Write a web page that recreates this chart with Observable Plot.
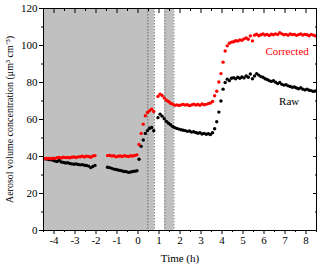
<!DOCTYPE html>
<html>
<head>
<meta charset="utf-8">
<script src="https://cdn.jsdelivr.net/npm/d3@7"></script>
<script src="https://cdn.jsdelivr.net/npm/@observablehq/plot@0.6"></script>
<style>
  html, body { margin: 0; padding: 0; background: #fff; }
</style>
</head>
<body>
<div id="chart"></div>
<script>
// Sampling grid (hours): first sample and step
const t0 = -4.45, dt = 0.1;

// Corrected series (red); null = no data
const corrected = [
  38.8, 38.9, 39.0, 38.8, 39.1, 39.0, 39.3, 39.5, 39.2, 39.6, 39.4, 39.5, 39.3, 39.6, 39.7, 39.5, 39.8, 39.9, 40.1, 39.7, 40.2, 40.0, 39.6, 40.3, 40.5,
  null, null, null, null, null,
  40.5, 40.6, 40.3, 40.4, 39.8, 40.1, 40.3, 40.0, 40.4, 40.2, 40.0, 40.4, 40.3, 40.6, 40.9,
  46.5, 52.5, 57.5, 62.0, 63.8, 64.7, 65.6, 64.3,
  null,
  72.5, 73.7, 73.0, 71.6, 70.4, 69.7, 68.8, 68.3, 67.7, 67.9,
  67.6, 67.9, 68.2, 67.8, 68.0, 67.5, 67.9, 68.3, 67.8, 68.1, 67.7, 68.4, 68.0, 68.2, 68.6, 68.9,
  69.7, 72.8, 75.3, 80.3, 84.8, 91.0, 97.0, 99.8, 101.2,
  101.8, 102.0, 102.6, 102.4, 103.0, 102.8, 103.6, 104.1, 103.4, 105.2, 102.5, 105.6, 106.1, 105.3, 105.8, 106.2, 105.7, 106.0, 105.4, 106.1,
  105.8, 106.3, 105.9, 106.9, 106.3, 105.8, 106.0, 105.6, 106.2, 105.9, 106.0, 105.5, 105.9, 106.2, 105.7, 106.0, 105.8, 105.3, 106.0, 105.6, 105.2
];

// Raw series (black)
const raw = [
  38.8, 38.6, 38.4, 38.2, 38.0, 37.6, 37.3, 37.8, 37.0, 36.8, 36.5, 36.6, 36.2, 36.0, 35.8, 36.0, 35.7, 35.5, 35.6, 35.3, 35.1, 34.8, 34.0, 34.6, 35.2,
  null, null, null, null, null,
  34.2, 34.0, 33.6, 33.2, 33.0, 32.7, 32.5, 32.2, 31.9, 31.8, 31.4, 31.6, 31.9, 32.0, 32.3,
  38.5, 45.5, 48.9, 52.5, 54.0, 55.3, 55.7, 53.9,
  null,
  61.0, 62.9, 61.8, 60.4, 59.0, 58.0, 57.2, 56.2, 55.6, 55.2,
  54.8, 54.5, 54.2, 54.0, 53.6, 53.8, 53.2, 53.4, 53.0, 52.6, 52.8, 52.2, 52.5, 52.0, 52.3, 51.9,
  52.8, 55.0, 58.8, 64.0, 70.0, 76.4, 80.0, 81.8, 81.0,
  82.3, 82.6, 82.0, 82.8, 82.3, 83.0, 82.5, 83.6, 82.8, 84.6, 82.0, 83.5, 84.8, 84.0, 83.2, 82.8, 82.0, 81.6, 81.0, 80.6,
  81.0, 80.2, 79.4, 80.0, 79.0, 78.6, 78.8, 78.2, 77.8, 77.4, 77.6, 77.0, 76.6, 77.2, 76.4, 76.0, 76.4, 75.8, 75.6, 75.2, 75.4
];

// Shaded periods (h) and dotted boundary lines (h)
const shadeStart = [-4.5, 1.28];
const shadeEnd   = [0.78, 1.71];
const dottedLines = [0.47, 0.78, 1.28, 1.71];

// Ticks
const xMajor = [-4, -3, -2, -1, 0, 1, 2, 3, 4, 5, 6, 7, 8];
const xMinor = [-4.5, -3.5, -2.5, -1.5, -0.5, 0.5, 1.5, 2.5, 3.5, 4.5, 5.5, 6.5, 7.5, 8.5];
const yMajor = [0, 20, 40, 60, 80, 100, 120];
const yMinor = [10, 30, 50, 70, 90, 110];

// Series labels
const seriesNames = ["Corrected", "Raw"];
const seriesColors = ["#ff0000", "#000000"];
const labelX = [7.1, 7.2];
const labelY = [97, 69.5];

const rows = [];
corrected.forEach((v, i) => {
  const t = Math.round((t0 + i * dt) * 100) / 100;
  if (v != null) rows.push({t, v, s: "Corrected"});
  if (raw[i] != null) rows.push({t, v: raw[i], s: "Raw"});
});
const shades = shadeStart.map((a, i) => ({x1: a, x2: shadeEnd[i]}));
const labels = seriesNames.map((s, i) => ({s, x: labelX[i], y: labelY[i], c: seriesColors[i]}));

const blank = () => "";

const chart = Plot.plot({
  width: 320,
  height: 264,
  marginLeft: 43,
  marginRight: 4,
  marginTop: 8,
  marginBottom: 34,
  style: {fontFamily: "'Liberation Serif', 'Times New Roman', serif", fontSize: "11px", background: "#fff", color: "#000"},
  x: {domain: [-4.5, 8.5]},
  y: {domain: [0, 120]},
  marks: [
    Plot.rect(shades, {x1: "x1", x2: "x2", y1: 0, y2: 120, fill: "#c0c0c0"}),
    Plot.ruleX(dottedLines, {stroke: "#555", strokeWidth: 0.8, strokeDasharray: "1.5,1.5"}),
    Plot.dot(rows.filter(d => d.s === "Raw"), {x: "t", y: "v", r: 1.7, fill: "#000", stroke: null}),
    Plot.dot(rows.filter(d => d.s === "Corrected"), {x: "t", y: "v", r: 1.7, fill: "#ff0000", stroke: null}),
    Plot.text(labels, {x: "x", y: "y", text: "s", fill: "c", fontSize: 11}),
    Plot.frame({stroke: "#000", strokeWidth: 1}),
    // bottom axis (outward)
    Plot.axisX({anchor: "bottom", ticks: xMajor, tickSize: 4, tickPadding: 2, tickFormat: d => String(d),
      label: "Time (h)", labelAnchor: "center", labelOffset: 31, labelArrow: "none", fontSize: 11}),
    Plot.axisX({anchor: "bottom", ticks: xMinor, tickSize: 2, tickFormat: blank, label: null}),
    // top axis (inward)
    Plot.axisX({anchor: "top", ticks: xMajor, tickSize: 4, dy: 4, tickFormat: blank, label: null}),
    Plot.axisX({anchor: "top", ticks: xMinor, tickSize: 2, dy: 2, tickFormat: blank, label: null}),
    // left axis (outward)
    Plot.axisY({anchor: "left", ticks: yMajor, tickSize: 4, tickPadding: 2, tickFormat: d => String(d), label: null, fontSize: 11}),
    Plot.axisY({anchor: "left", ticks: yMinor, tickSize: 2, tickFormat: blank,
      label: "Aerosol volume concentration (μm³ cm⁻³)", labelAnchor: "center", labelOffset: 38, labelArrow: "none", fontSize: 10}),
    // right axis (inward)
    Plot.axisY({anchor: "right", ticks: yMajor, tickSize: 4, dx: -4, tickFormat: blank, label: null}),
    Plot.axisY({anchor: "right", ticks: yMinor, tickSize: 2, dx: -2, tickFormat: blank, label: null})
  ]
});
document.getElementById("chart").appendChild(chart);
</script>
</body>
</html>
